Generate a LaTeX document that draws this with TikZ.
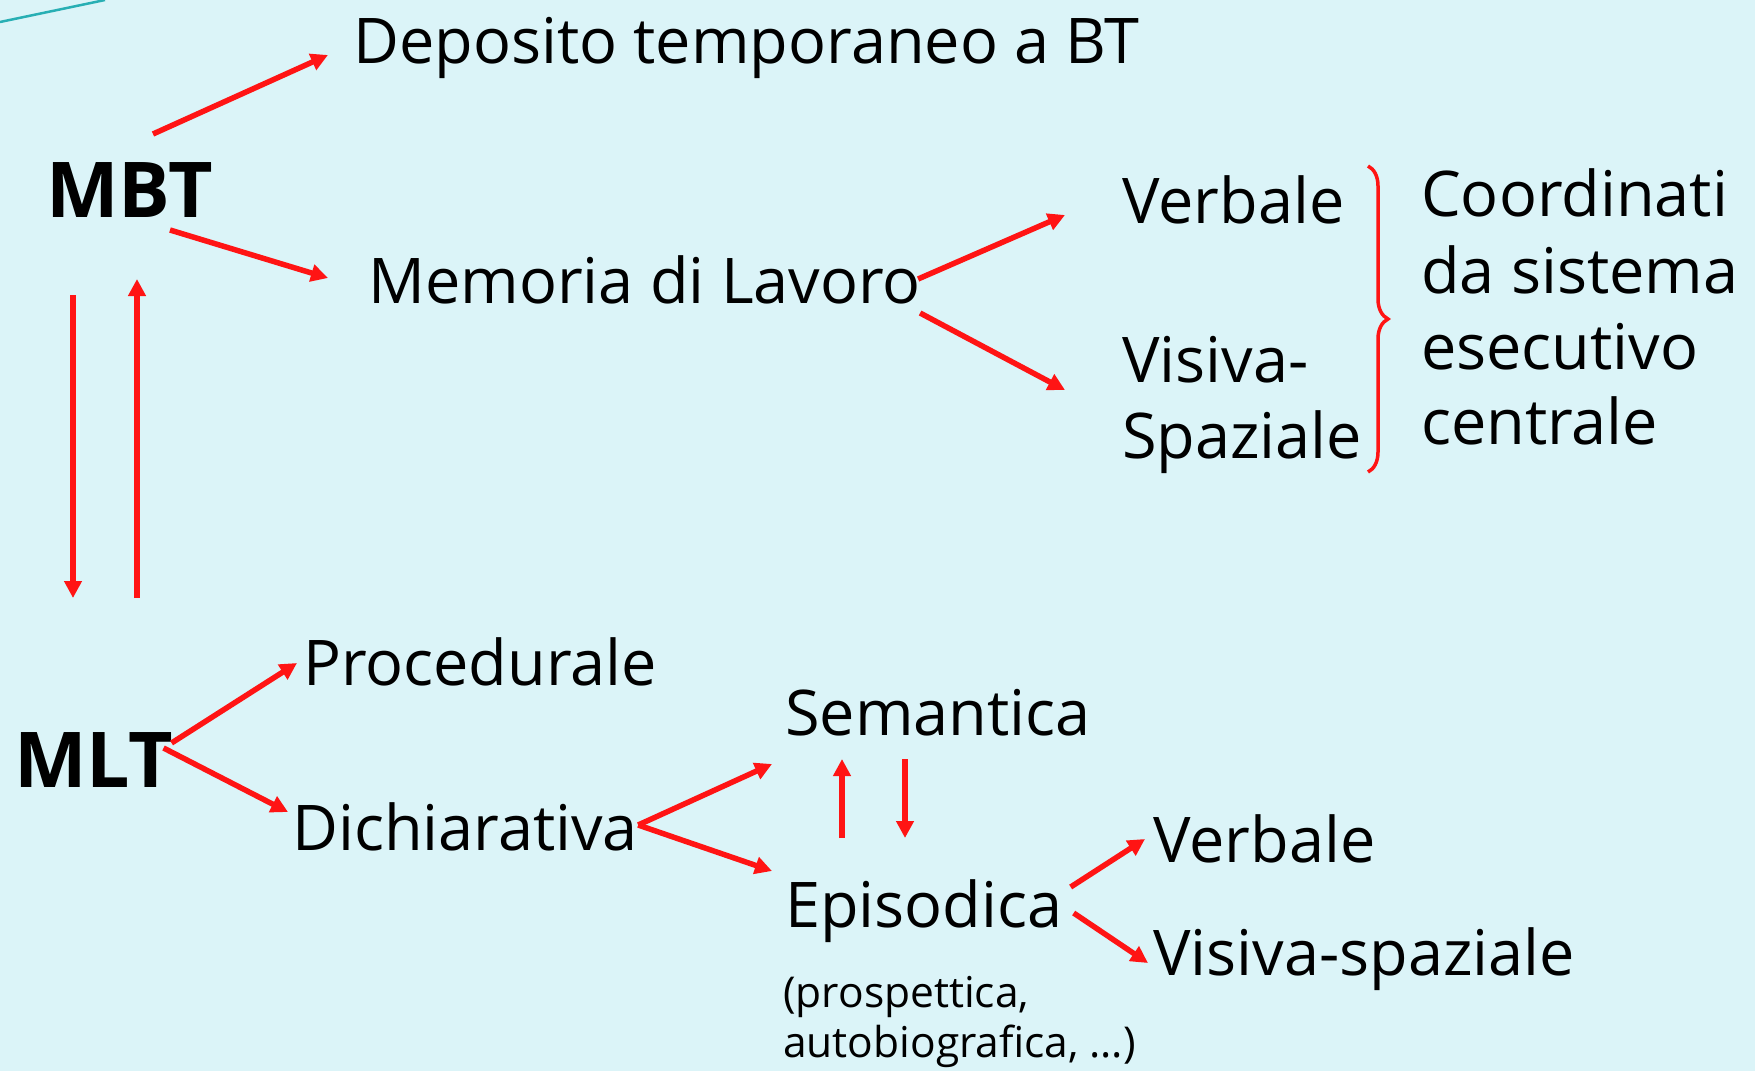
\documentclass[tikz,border=0pt]{standalone}
\usepackage{fontspec}
\setmainfont{Open Sans}
\usetikzlibrary{arrows.meta,calc,decorations.pathreplacing}
\definecolor{bgcol}{RGB}{219,244,248}
\definecolor{arrowred}{RGB}{255,20,20}
\definecolor{tealline}{RGB}{40,175,180}
\tikzset{
  txt/.style={anchor=base west, inner sep=0pt, text=black, font=\fontsize{63}{76}\selectfont},
  bigtxt/.style={anchor=base west, inner sep=0pt, text=black, font=\fontsize{77}{90}\selectfont\bfseries},
  smalltxt/.style={anchor=base west, inner sep=0pt, text=black, font=\fontsize{42.5}{50}\selectfont},
  arr/.style={draw=arrowred, line width=5.5pt, -{Triangle[length=17pt,width=17pt]}},
  bracestyle/.style={draw=arrowred, line width=3.5pt, decorate, decoration={brace, amplitude=20pt}},
}
\begin{document}
\begin{tikzpicture}[x=1pt,y=-1pt]
\path[fill=bgcol,use as bounding box] (0,0) rectangle (1755,1071);
\draw[tealline, line width=2.5pt] (0,22) -- (105,0);

% nodes
\node[bigtxt] (mbt) at (46,217) {MBT};
\node[bigtxt] (mlt) at (14,787) {MLT};
\node[txt] (dep) at (353,63) {Deposito temporaneo a BT};
\node[txt] (mem) at (368,303) {Memoria di Lavoro};
\node[txt] (verb1) at (1122,223) {Verbale};
\node[txt] (vis1) at (1122,382) {Visiva-};
\node[txt] (spa1) at (1122,458) {Spaziale};
\node[txt] (coord) at (1421,216) {Coordinati};
\node[txt] (dasis) at (1421,293) {da sistema};
\node[txt] (esec) at (1421,369) {esecutivo};
\node[txt] (centr) at (1421,444) {centrale};
\node[txt] (proc) at (303,685) {Procedurale};
\node[txt] (dich) at (292,850) {Dichiarativa};
\node[txt] (sem) at (785,735) {Semantica};
\node[txt] (epi) at (785,927) {Episodica};
\node[smalltxt] (pros) at (783,1007) {(prospettica,};
\node[smalltxt] (auto) at (783,1057) {autobiografica, …)};
\node[txt] (verb2) at (1153,862) {Verbale};
\node[txt] (visp) at (1153,975) {Visiva-spaziale};

% connectors
\draw[arr] ($(mbt.base west)+(107,-83)$) -- ($(dep.base west)+(-25,-8)$);
\draw[arr] ($(mbt.base west)+(124,13)$) -- ($(mem.base west)+(-40,-25)$);
\draw[arr] ($(mbt.base west)+(27,78)$) -- ($(mlt.base west)+(59,-189)$);
\draw[arr] ($(mlt.base west)+(123,-189)$) -- ($(mbt.base west)+(91,62)$);
\draw[arr] ($(mem.base east)+(-3,-24)$) -- ($(verb1.base west)+(-57,-8)$);
\draw[arr] ($(mem.base east)+(-1,10)$) -- ($(vis1.base west)+(-57,8)$);
\draw[arr] ($(mlt.base east)+(-2,-44)$) -- ($(proc.base west)+(-6,-22)$);
\draw[arr] ($(mlt.base east)+(-10,-39)$) -- ($(dich.base west)+(-4,-38)$);
\draw[arr] ($(dich.base east)+(0,-25)$) -- ($(sem.base west)+(-13,29)$);
\draw[arr] ($(dich.base east)+(0,-25)$) -- ($(epi.base west)+(-13,-56)$);
\draw[arr] ($(epi.base west)+(57,-89)$) -- ($(sem.base west)+(57,24)$);
\draw[arr] ($(sem.base west)+(120,24)$) -- ($(epi.base west)+(120,-89)$);
\draw[arr] ($(epi.base east)+(8,-40)$) -- ($(verb2.base west)+(-8,-23)$);
\draw[arr] ($(epi.base east)+(11,-14)$) -- ($(visp.base west)+(-5,-12)$);

% brace
\coordinate (bracetop) at (1368,166);
\coordinate (bracebot) at (1368,472);
\draw[bracestyle] (bracetop) -- (bracebot);
\end{tikzpicture}
\end{document}
